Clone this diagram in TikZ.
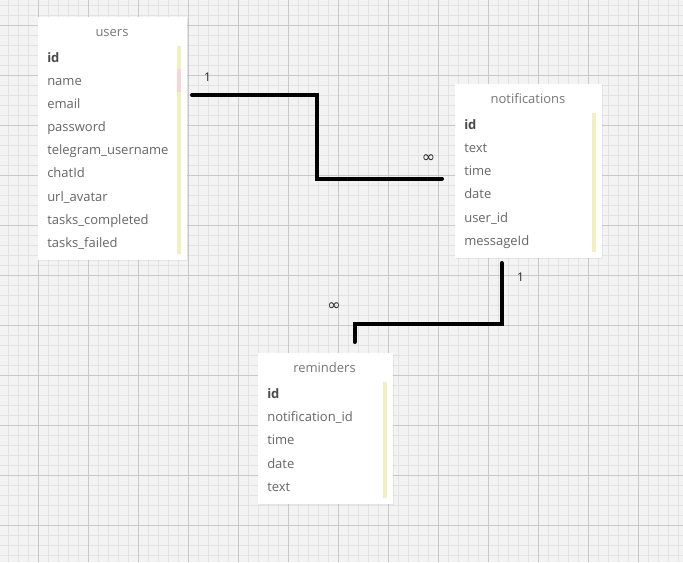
\documentclass[tikz,border=0pt]{standalone}
\usepackage{fontspec}
\setmainfont{Open Sans}
\newfontfamily\symfont{DejaVu Sans}
\usetikzlibrary{shadows}
\definecolor{bgc}{HTML}{F3F3F3}
\definecolor{minorc}{HTML}{E2E2E2}
\definecolor{majorc}{HTML}{C8C8C8}
\definecolor{txtc}{HTML}{666666}
\definecolor{idc}{HTML}{4A4A4A}
\definecolor{hdrc}{HTML}{777777}
\definecolor{barc}{HTML}{F3F0C0}
\definecolor{pinkc}{HTML}{F8D5D5}
\tikzset{
  minorline/.style={draw=minorc, line width=0.75pt},
  majorline/.style={draw=majorc, line width=0.75pt},
  tbl/.style={draw=none, fill=white, rectangle, inner sep=0pt,
    drop shadow={opacity=0.12, shadow xshift=0.6pt, shadow yshift=-0.8pt}},
  hdr/.style={anchor=base, text=hdrc, font=\fontsize{9.75pt}{11pt}\selectfont, inner sep=0pt},
  fld/.style={anchor=base west, text=txtc, font=\fontsize{9.75pt}{11pt}\selectfont, inner sep=0pt},
  keyfld/.style={anchor=base west, text=idc, font=\fontsize{9.75pt}{11pt}\selectfont\bfseries, inner sep=0pt},
  rel/.style={draw=black, line width=3pt, line cap=round, line join=miter},
  card/.style={anchor=base, inner sep=0pt, font=\fontsize{9pt}{10pt}\selectfont, text=black!85},
  inf/.style={anchor=base, inner sep=0pt, font=\symfont\fontsize{12pt}{13pt}\selectfont, text=black!85},
}
\begin{document}
\begin{tikzpicture}[x=0.75pt,y=-0.75pt]
\useasboundingbox (0,0) rectangle (683,562);
\fill[bgc] (0,0) rectangle (683,562);
\foreach \x in {8,18,...,678} \draw[minorline] (\x,0) -- (\x,562);
\foreach \y in {5,15,...,555} \draw[minorline] (0,\y) -- (683,\y);
\foreach \x in {38,88,...,638} \draw[majorline] (\x,0) -- (\x,562);
\foreach \y in {25,75,...,525} \draw[majorline] (0,\y) -- (683,\y);

% users table
\node[tbl, minimum width=111.75pt, minimum height=182.25pt] (users) at (112.5,138.5) {};
\fill[barc] (177,46) rectangle (181,254);
\fill[pinkc] (177,69) rectangle (181,92);
\node[hdr] (uh) at (112,36.5) {users};
\node[keyfld] (u1) at (47,62.4) {id};
\node[fld] (u2) at (47,85.5) {name};
\node[fld] (u3) at (47,108.6) {email};
\node[fld] (u4) at (47,131.7) {password};
\node[fld] (u5) at (47,154.8) {telegram\_username};
\node[fld] (u6) at (47,177.9) {chatId};
\node[fld] (u7) at (47,201) {url\_avatar};
\node[fld] (u8) at (47,224.1) {tasks\_completed};
\node[fld] (u9) at (47,247.2) {tasks\_failed};

% notifications table
\node[tbl, minimum width=110.25pt, minimum height=130.5pt] (notif) at (528.5,171) {};
\fill[barc] (592,113) rectangle (596,252);
\node[hdr] (nh) at (528,103.3) {notifications};
\node[keyfld] (n1) at (464,129) {id};
\node[fld] (n2) at (464,152.3) {text};
\node[fld] (n3) at (464,175.6) {time};
\node[fld] (n4) at (464,198.9) {date};
\node[fld] (n5) at (464,222.2) {user\_id};
\node[fld] (n6) at (464,245.5) {messageId};

% reminders table
\node[tbl, minimum width=101.25pt, minimum height=113.25pt] (rem) at (325.5,428.5) {};
\fill[barc] (383,382) rectangle (387,498);
\node[hdr] (rh) at (324.5,372.3) {reminders};
\node[keyfld] (r1) at (267,398.4) {id};
\node[fld] (r2) at (267,421.6) {notification\_id};
\node[fld] (r3) at (267,444.9) {time};
\node[fld] (r4) at (267,468.1) {date};
\node[fld] (r5) at (267,491.4) {text};

% connectors
\coordinate (ua) at (192,95);
\coordinate (nb) at (442,178.5);
\coordinate (nc) at (501.5,263);
\coordinate (rd) at (354.5,342);
\draw[rel] (ua) -- (316.5,95) -- (316.5,178.5) -- (nb);
\draw[rel] (nc) -- (501.5,323.5) -- (354.5,323.5) -- (rd);

\node[card] (c1) at (207.5,81.5) {1};
\node[inf] (c2) at (428.5,162) {∞};
\node[card] (c3) at (520.5,281) {1};
\node[inf] (c4) at (334,310.5) {∞};
\end{tikzpicture}
\end{document}
